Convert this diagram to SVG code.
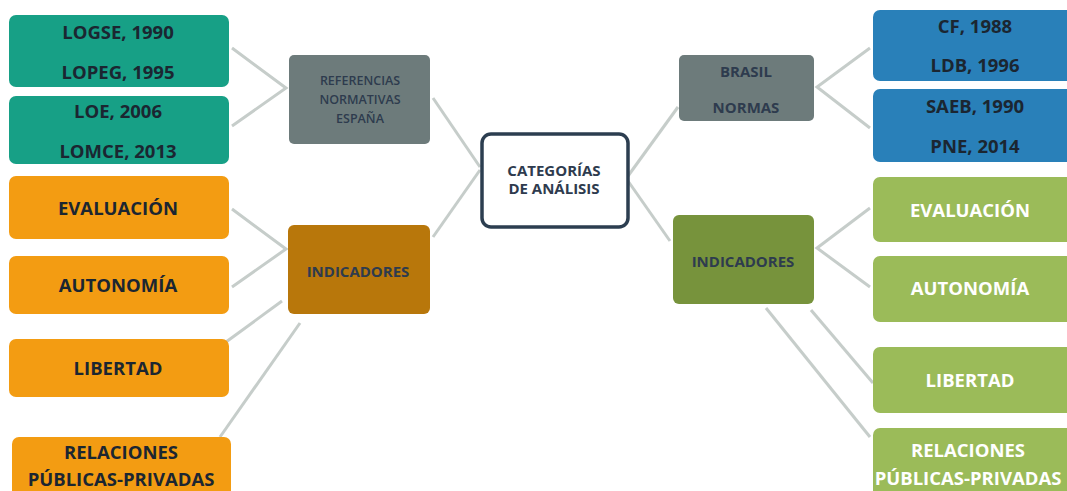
<svg xmlns="http://www.w3.org/2000/svg" width="1067" height="491" viewBox="0 0 1067 491">
<style>
.t{font-family:"Open Sans",Lato,"Liberation Sans",sans-serif;font-weight:bold;text-anchor:middle;dominant-baseline:central}
.big{font-size:18.5px;fill:#1b2631}
.wh{font-size:18.5px;fill:#ffffff}
.mid{font-size:15px;fill:#2e3b4e}
.sm{font-size:12.5px;fill:#2e3b4e;font-weight:600}
.teal{fill:#17a086}
.org{fill:#f39c12}
.gry{fill:#6d7b7b}
.brn{fill:#b8770b}
.blu{fill:#2980b9}
.olv{fill:#77933c}
.lgr{fill:#9bbb59}
.con{stroke:#c6cdca;stroke-width:3;fill:none}
</style>
<g id="connectors">
<polyline class="con" points="232,48 286,88 232,126"/>
<polyline class="con" points="232,209 286,249 232,287"/>
<line class="con" x1="226" y1="342" x2="282" y2="301"/>
<line class="con" x1="220" y1="437" x2="300" y2="323"/>
<line class="con" x1="433" y1="98" x2="480" y2="167"/>
<line class="con" x1="433" y1="237" x2="480" y2="170"/>
<line class="con" x1="628" y1="176" x2="678" y2="107"/>
<line class="con" x1="628" y1="181" x2="670" y2="241"/>
<polyline class="con" points="870,48 817,87 870,128"/>
<polyline class="con" points="870,208 817,248 870,287"/>
<line class="con" x1="811" y1="310" x2="873" y2="383"/>
<line class="con" x1="766" y1="308" x2="870" y2="437"/>
</g>
<g id="n-logse">
<rect class="teal" x="9" y="15" width="220" height="72" rx="7"/>
<text class="t big" x="118" y="31">LOGSE, 1990</text>
<text class="t big" x="118" y="71">LOPEG, 1995</text>
</g>
<g id="n-loe">
<rect class="teal" x="9" y="96" width="220" height="68" rx="7"/>
<text class="t big" x="118" y="110">LOE, 2006</text>
<text class="t big" x="118" y="150">LOMCE, 2013</text>
</g>
<g id="n-ref-espana">
<rect class="gry" x="289" y="55" width="141" height="89" rx="5"/>
<text class="t sm" x="360" y="80">REFERENCIAS</text>
<text class="t sm" x="360" y="99">NORMATIVAS</text>
<text class="t sm" x="360" y="118">ESPAÑA</text>
</g>
<g id="n-eval-es">
<rect class="org" x="9" y="176" width="220" height="63" rx="7"/>
<text class="t big" x="118" y="207">EVALUACIÓN</text>
</g>
<g id="n-auto-es">
<rect class="org" x="9" y="256" width="220" height="58" rx="7"/>
<text class="t big" x="118" y="284">AUTONOMÍA</text>
</g>
<g id="n-lib-es">
<rect class="org" x="9" y="339" width="220" height="58" rx="7"/>
<text class="t big" x="118" y="367">LIBERTAD</text>
</g>
<g id="n-rel-es">
<rect class="org" x="12" y="437" width="219" height="70" rx="7"/>
<text class="t big" x="121" y="451">RELACIONES</text>
<text class="t big" x="121" y="478">PÚBLICAS-PRIVADAS</text>
</g>
<g id="n-ind-es">
<rect class="brn" x="288" y="225" width="142" height="89" rx="6"/>
<text class="t mid" x="358" y="271">INDICADORES</text>
</g>
<g id="n-categorias">
<rect x="482" y="134" width="146" height="93" rx="9" fill="#ffffff" stroke="#2c3e50" stroke-width="3.5"/>
<text class="t mid" x="554" y="170" fill="#2c3e50">CATEGORÍAS</text>
<text class="t mid" x="554" y="188" fill="#2c3e50">DE ANÁLISIS</text>
</g>
<g id="n-brasil">
<rect class="gry" x="679" y="55" width="135" height="66" rx="5"/>
<text class="t mid" x="746" y="71">BRASIL</text>
<text class="t mid" x="746" y="107">NORMAS</text>
</g>
<g id="n-cf">
<rect class="blu" x="873" y="10" width="210" height="71" rx="7"/>
<text class="t big" x="975" y="25">CF, 1988</text>
<text class="t big" x="975" y="64">LDB, 1996</text>
</g>
<g id="n-saeb">
<rect class="blu" x="873" y="89" width="210" height="73" rx="7"/>
<text class="t big" x="975" y="105">SAEB, 1990</text>
<text class="t big" x="975" y="145">PNE, 2014</text>
</g>
<g id="n-ind-br">
<rect class="olv" x="673" y="215" width="141" height="89" rx="6"/>
<text class="t mid" x="743" y="261">INDICADORES</text>
</g>
<g id="n-eval-br">
<rect class="lgr" x="873" y="177" width="210" height="65" rx="7"/>
<text class="t wh" x="970" y="209">EVALUACIÓN</text>
</g>
<g id="n-auto-br">
<rect class="lgr" x="873" y="256" width="210" height="66" rx="7"/>
<text class="t wh" x="970" y="287">AUTONOMÍA</text>
</g>
<g id="n-lib-br">
<rect class="lgr" x="873" y="347" width="210" height="66" rx="7"/>
<text class="t wh" x="970" y="379">LIBERTAD</text>
</g>
<g id="n-rel-br">
<rect class="lgr" x="873" y="428" width="210" height="80" rx="7"/>
<text class="t wh" x="968" y="449">RELACIONES</text>
<text class="t wh" x="968" y="477">PÚBLICAS-PRIVADAS</text>
</g>
</svg>
